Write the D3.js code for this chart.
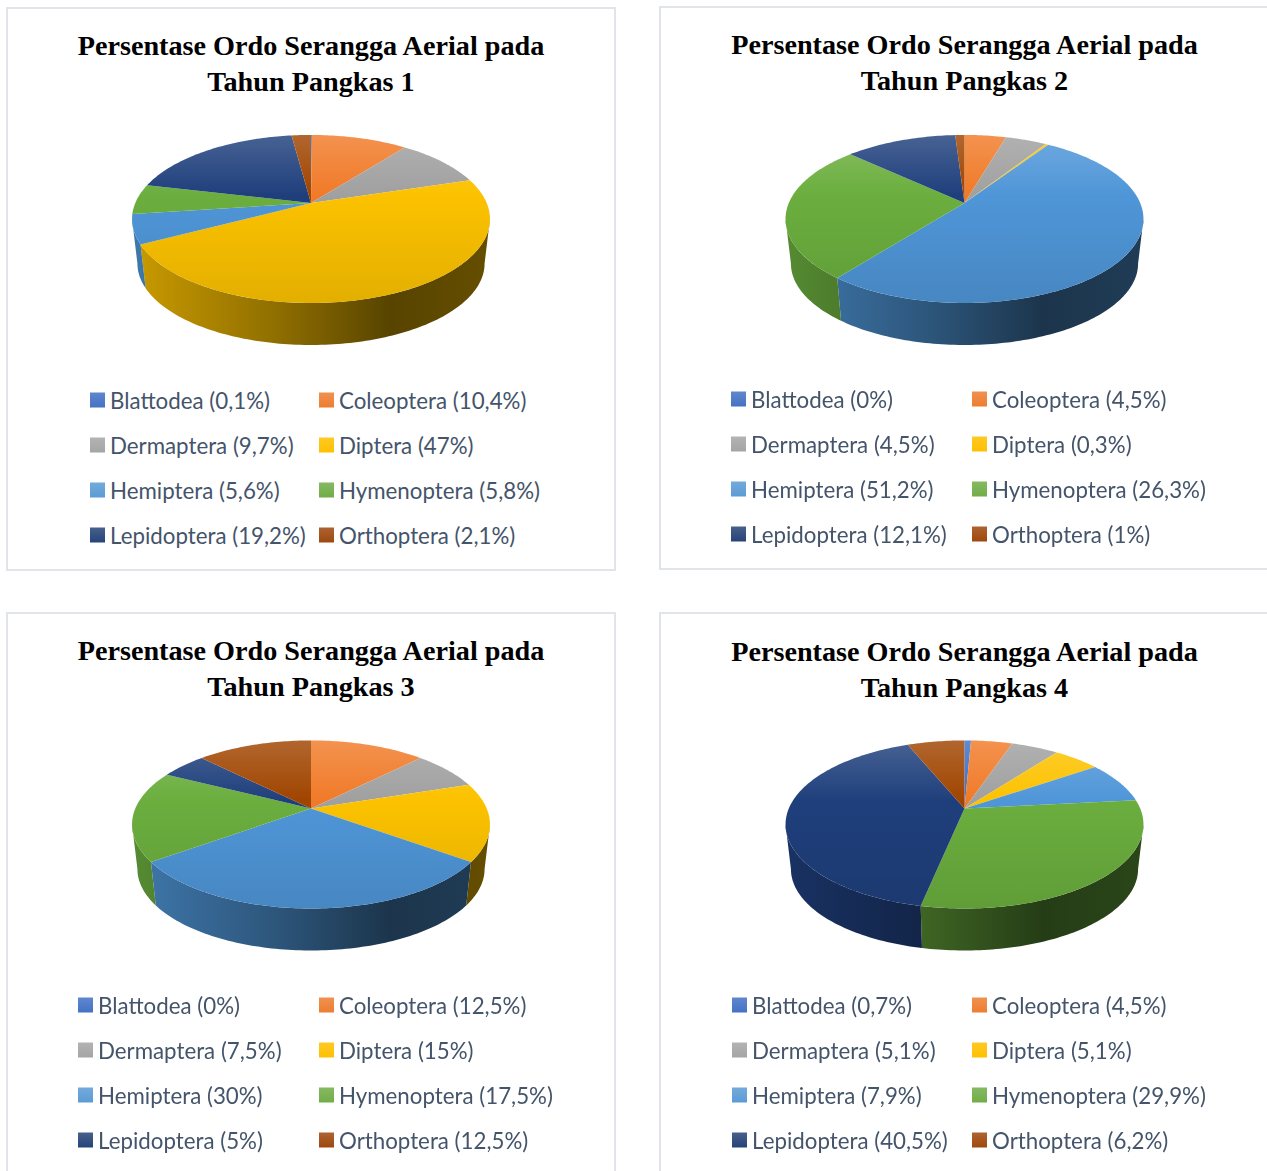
<!DOCTYPE html>
<html>
<head>
<meta charset="utf-8">
<script src="https://cdn.jsdelivr.net/npm/d3@7"></script>
<style>
  html, body { margin: 0; padding: 0; background: #fff; }
  svg { display: block; filter: blur(0.45px); }
</style>
</head>
<body>
<svg id="chart" width="1267" height="1171"></svg>
<script>
// legend order = slice order, clockwise from 12 o'clock
const ordo = ["Blattodea", "Coleoptera", "Dermaptera", "Diptera", "Hemiptera", "Hymenoptera", "Lepidoptera", "Orthoptera"];
const warna = ["#4472c4", "#ed7d31", "#a5a5a5", "#ffc000", "#5b9bd5", "#70ad47", "#264478", "#9e480e"];
// slices read a bit more saturated than the legend keys
const warnaPie = ["#3a70cc", "#f07a28", "#a0a0a0", "#fcc200", "#4f96d8", "#6bae3e", "#1f3f7c", "#a04400"];

const pangkas1 = [0.1, 10.4, 9.7, 47, 5.6, 5.8, 19.2, 2.1];
const pangkas2 = [0, 4.5, 4.5, 0.3, 51.2, 26.3, 12.1, 1];
const pangkas3 = [0, 12.5, 7.5, 15, 30, 17.5, 5, 12.5];
const pangkas4 = [0.7, 4.5, 5.1, 5.1, 7.9, 29.9, 40.5, 6.2];

const judul1 = "Persentase Ordo Serangga Aerial pada";
const judul2 = ["Tahun Pangkas 1", "Tahun Pangkas 2", "Tahun Pangkas 3", "Tahun Pangkas 4"];

// panel placement
const panels = [
    { values: pangkas1, x: 7, y: 8, w: 608, h: 562, cx: 311, apexY: 203, titleY: 54.5, legX: 90, legX2: 319, legY: 400 },
    { values: pangkas2, x: 660, y: 7, w: 640, h: 562, cx: 964.5, apexY: 203, titleY: 53.5, legX: 731, legX2: 972, legY: 399 },
    { values: pangkas3, x: 7, y: 613, w: 608, h: 600, cx: 311, apexY: 808.5, titleY: 659.5, legX: 78, legX2: 319, legY: 1005 },
    { values: pangkas4, x: 660, y: 613, w: 640, h: 600, cx: 964.5, apexY: 808.5, titleY: 660.5, legX: 732, legX2: 972, legY: 1005 }
];

// perspective of the pie, fitted to the rim of the picture
const persp = 0.19;
const radiusX = 175.7;
const radiusY = 81;
const wallScale = 0.97;
const wallDrop = 45;
const halfWidth = 179;

const svg = d3.select("#chart");
const defs = svg.append("defs");

function mix(c, other, t) {
    return d3.interpolateRgb(c, other)(t);
}

function rimPoint(p, angle, bottom) {
    const u = Math.sin(angle), v = Math.cos(angle);
    const d = 1 + persp * v;
    let x = radiusX * u / d;
    let y = -radiusY * v / d;
    if (bottom) {
        x *= wallScale;
        y = y * wallScale + wallDrop;
    }
    return [p.cx + x, p.apexY + y];
}

function sampleAngles(a0, a1) {
    const n = Math.max(2, Math.ceil((a1 - a0) / 0.02));
    const s = d3.scaleLinear().domain([0, n]).range([a0, a1]);
    return d3.range(n + 1).map(s);
}

const line = d3.line();

// the wall only shows between the two tangent points of the rim
const wallFrom = Math.PI - Math.acos(persp);
const wallTo = Math.PI + Math.acos(persp);

function addGradients(p, pi) {
    warnaPie.forEach((c, i) => {
        const top = defs.append("linearGradient")
            .attr("id", `top-${pi}-${i}`)
            .attr("gradientUnits", "userSpaceOnUse")
            .attr("x1", 0).attr("x2", 0)
            .attr("y1", p.apexY - 68).attr("y2", p.apexY + 100);
        top.append("stop").attr("offset", 0).attr("stop-color", mix(c, "#fff", 0.18));
        top.append("stop").attr("offset", 0.36).attr("stop-color", c);
        top.append("stop").attr("offset", 1).attr("stop-color", mix(c, "#000", 0.1));

        const wall = defs.append("linearGradient")
            .attr("id", `wall-${pi}-${i}`)
            .attr("gradientUnits", "userSpaceOnUse")
            .attr("y1", 0).attr("y2", 0)
            .attr("x1", p.cx - halfWidth).attr("x2", p.cx + halfWidth);
        [[0, 0.2], [0.4, 0.43], [0.72, 0.65], [1, 0.6]].forEach(([o, k]) => {
            wall.append("stop").attr("offset", o).attr("stop-color", mix(c, "#000", k));
        });
    });
    warna.forEach((c, i) => {
        const sw = defs.append("linearGradient")
            .attr("id", `swatch-${pi}-${i}`)
            .attr("x1", 0).attr("x2", 0).attr("y1", 0).attr("y2", 1);
        sw.append("stop").attr("offset", 0).attr("stop-color", mix(c, "#fff", 0.15));
        sw.append("stop").attr("offset", 1).attr("stop-color", c);
    });
}

function drawPanel(p, pi) {
    addGradients(p, pi);
    const g = svg.append("g");

    g.append("rect")
        .attr("x", p.x).attr("y", p.y)
        .attr("width", p.w).attr("height", p.h)
        .attr("fill", "#fff")
        .attr("stroke", "#e1e5ea")
        .attr("stroke-width", 2);

    g.selectAll("text.title")
        .data([judul1, judul2[pi]])
        .join("text")
        .attr("class", "title")
        .attr("x", p.cx)
        .attr("y", (d, i) => p.titleY + i * 36)
        .attr("text-anchor", "middle")
        .attr("font-family", "'Liberation Serif', serif")
        .attr("font-weight", "bold")
        .attr("font-size", 28.2)
        .attr("fill", "#000")
        .text(d => d);

    const pie = d3.pie().sort(null).value(d => d)(p.values);

    // side wall first, top face over it
    pie.forEach(s => {
        const a0 = Math.max(s.startAngle, wallFrom);
        const a1 = Math.min(s.endAngle, wallTo);
        if (a1 <= a0) return;
        const angles = sampleAngles(a0, a1);
        const pts = angles.map(a => rimPoint(p, a, false))
            .concat(angles.slice().reverse().map(a => rimPoint(p, a, true)));
        g.append("path")
            .attr("d", line(pts) + "Z")
            .attr("fill", `url(#wall-${pi}-${s.index})`);
    });

    pie.forEach(s => {
        if (s.endAngle <= s.startAngle) return;
        const pts = [[p.cx, p.apexY]].concat(sampleAngles(s.startAngle, s.endAngle).map(a => rimPoint(p, a, false)));
        g.append("path")
            .attr("d", line(pts) + "Z")
            .attr("fill", `url(#top-${pi}-${s.index})`);
    });

    const legend = g.selectAll("g.legend")
        .data(ordo)
        .join("g")
        .attr("class", "legend")
        .attr("transform", (d, i) => `translate(${i % 2 ? p.legX2 : p.legX},${p.legY + Math.floor(i / 2) * 45})`);

    legend.append("rect")
        .attr("x", 0).attr("y", -7.5)
        .attr("width", 15).attr("height", 15)
        .attr("fill", (d, i) => `url(#swatch-${pi}-${i})`);

    legend.append("text")
        .attr("x", 20)
        .attr("y", 8.5)
        .attr("font-family", "Lato, sans-serif")
        .attr("font-size", 22.3)
        .attr("fill", "#44546a")
        .text((d, i) => `${d} (${String(p.values[i]).replace(".", ",")}%)`);
}

panels.forEach(drawPanel);
</script>
</body>
</html>
